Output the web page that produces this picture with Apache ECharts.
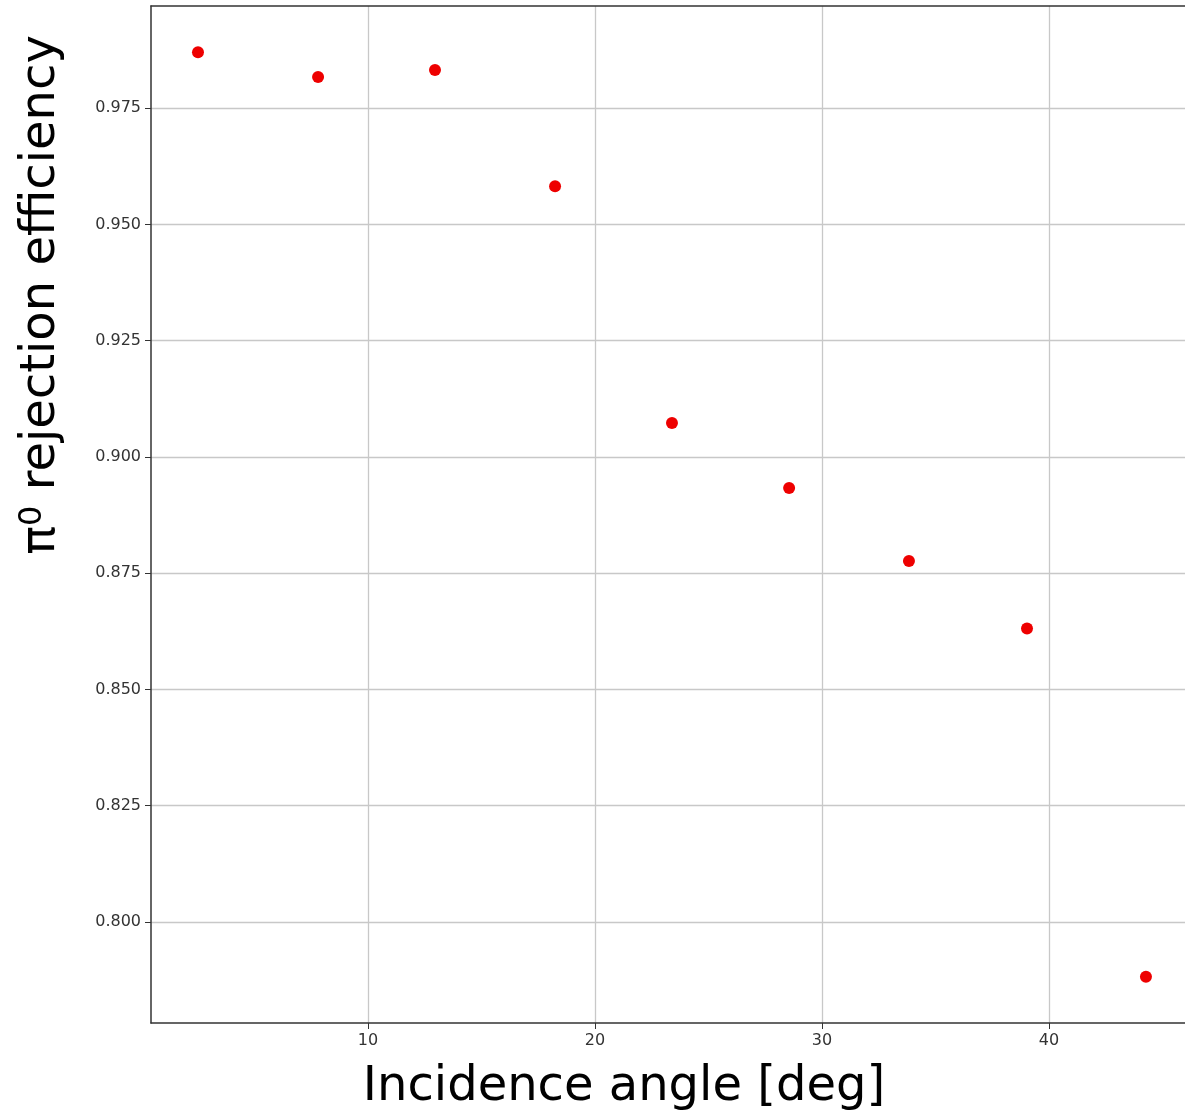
<!DOCTYPE html>
<html><head><meta charset="utf-8">
<script src="https://cdn.jsdelivr.net/npm/echarts@6/dist/echarts.min.js"></script>
<style>html,body{margin:0;padding:0;background:#fff}#c{width:1185px;height:1116px}</style>
</head><body><div id="c"></div>
<script>
const angles = [2.51, 7.80, 12.95, 18.24, 23.39, 28.55, 33.83, 39.03, 44.27];
const efficiency = [0.9870, 0.9817, 0.9832, 0.9582, 0.9073, 0.8933, 0.8776, 0.8631, 0.7882];
const xTicks = [10, 20, 30, 40];
const yTicks = [0.800, 0.825, 0.850, 0.875, 0.900, 0.925, 0.950, 0.975];

const FONT = 'DejaVu Sans';
const X_MIN = 0.44, X_MAX = 45.99;
const chart = echarts.init(document.getElementById('c'), null, {renderer: 'canvas'});
chart.setOption({
  animation: false,
  backgroundColor: '#fff',
  grid: {left: 151, top: 6, right: 0, bottom: 93, show: false},
  xAxis: [{
    type: 'value', min: X_MIN, max: X_MAX,
    axisLine: {show: true, lineStyle: {color: '#333', width: 1.5}},
    axisTick: {show: true, length: 6, lineStyle: {color: '#333'}, customValues: xTicks},
    axisLabel: {customValues: xTicks, color: '#333', fontFamily: FONT, fontSize: 16, margin: 10},
    splitLine: {show: true, lineStyle: {color: '#c8c8c8', width: 1.3}}
  }, {
    type: 'value', position: 'top', min: X_MIN, max: X_MAX,
    axisLine: {show: true, onZero: false, lineStyle: {color: '#333', width: 1.5}},
    axisTick: {show: false}, axisLabel: {show: false}, splitLine: {show: false}
  }],
  yAxis: {
    type: 'value', min: 0.77827, max: 0.99695,
    axisLine: {show: true, lineStyle: {color: '#333', width: 1.5}},
    axisTick: {show: true, length: 6, lineStyle: {color: '#333'}, customValues: yTicks},
    axisLabel: {customValues: yTicks, color: '#333', fontFamily: FONT, fontSize: 16, margin: 10,
      formatter: v => v.toFixed(3)},
    splitLine: {show: true, lineStyle: {color: '#c8c8c8', width: 1.3}}
  },
  graphic: [
    {type: 'text', x: 624, y: 1088, style: {text: 'Incidence angle [deg]', font: '48px "DejaVu Sans"', fill: '#000', align: 'center', verticalAlign: 'middle'}},
    {type: 'text', x: 42, y: 295, rotation: Math.PI / 2,
      style: {text: '{a|π}{b|0}{a| rejection efficiency}', align: 'center', verticalAlign: 'middle', fill: '#000',
        rich: {a: {fontFamily: FONT, fontSize: 48, fill: '#000'}, b: {fontFamily: FONT, fontSize: 32, fill: '#000', verticalAlign: 'top', padding: [0,0,18,0]}}}}
  ],
  series: [{
    type: 'scatter', symbol: 'circle', symbolSize: 12, xAxisIndex: 0,
    itemStyle: {color: '#ee0000', opacity: 1},
    data: angles.map((a, i) => [a, efficiency[i]])
  }]
});
</script></body></html>
